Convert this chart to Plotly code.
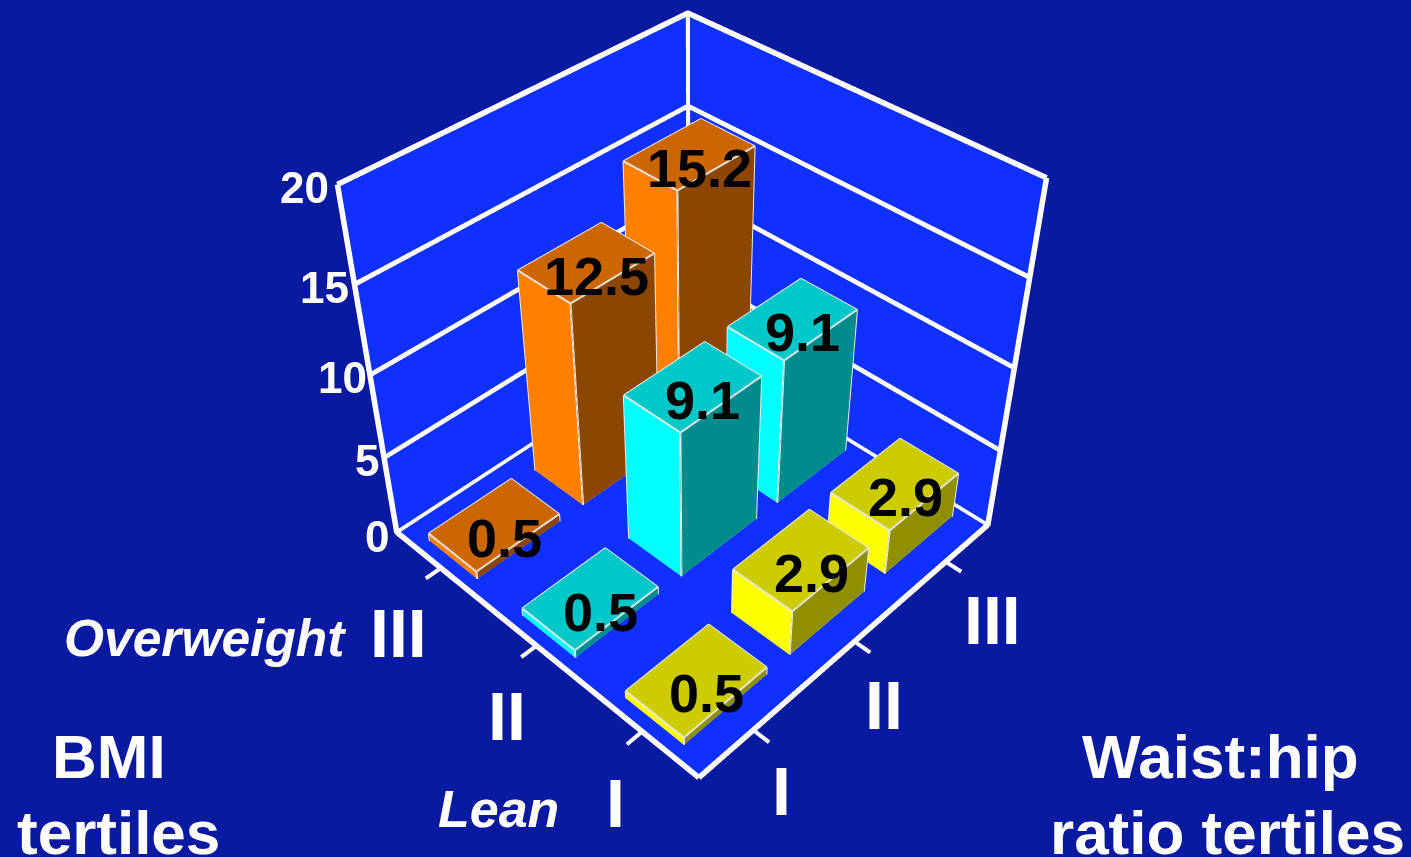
import plotly.graph_objects as go

whr_labels = ["I", "II", "III"]
bmi_labels = ["I", "II", "III"]
values_bmi_I = [0.5, 2.9, 2.9]
values_bmi_II = [0.5, 9.1, 9.1]
values_bmi_III = [0.5, 12.5, 15.2]
z_ticks = [0, 5, 10, 15, 20]

PAGE_BG = "#0a1aa0"
WALL = "#1030ff"
LEFT = ["#ffff00", "#00ffff", "#ff7f00"]
TOPC = ["#cccc00", "#00c8c8", "#cc6600"]
RIGHT = ["#8f8f00", "#008c8c", "#8c4600"]
BW_X, BW_Y = 0.77, 0.52
XR, YR, ZR = [-0.2, 3.02], [-0.2, 3.02], [-0.1, 20.2]
HZ = 0.99
EYE = dict(x=-1.881, y=-1.817, z=2.249)
CENTER = dict(x=0.328, y=0.318, z=-0.311)
W, H = 1450, 857
HC = 1319
TOP = HC // 2 - 357
LEFT_OFF = 32
Z_SHIFT = [-5, -2, 0, -2, -5]
BMI_SHIFT = [(-7, -55), (-10, -55), (-23, -51)]
WHR_SHIFT = [(8, -45), (9, -49), (27, -45)]

fig = go.Figure()

def wall(xs, ys, zs):
    fig.add_trace(go.Mesh3d(x=xs, y=ys, z=zs, i=[0, 0], j=[1, 2], k=[2, 3], color=WALL, flatshading=True,
                            lighting=dict(ambient=1, diffuse=0, specular=0, fresnel=0), hoverinfo="skip"))
wall([0, 3, 3, 0], [0, 0, 3, 3], [0, 0, 0, 0])
wall([0, 3, 3, 0], [3, 3, 3, 3], [0, 0, 20, 20])
wall([3, 3, 3, 3], [0, 3, 3, 0], [0, 0, 20, 20])

for r, vals in enumerate([values_bmi_I, values_bmi_II, values_bmi_III]):
    X, Y, Z, I, J, K, FC = [], [], [], [], [], [], []
    ex, ey, ez = [], [], []
    for c, v in enumerate(vals):
        x0, x1 = c + .5 - BW_X / 2, c + .5 + BW_X / 2
        y0, y1 = r + .5 - BW_Y / 2, r + .5 + BW_Y / 2
        n = len(X)
        X += [x0, x1, x1, x0, x0, x1, x1, x0]
        Y += [y0, y0, y1, y1, y0, y0, y1, y1]
        Z += [0, 0, 0, 0, v, v, v, v]
        faces = [((0, 3, 7), LEFT[r]), ((0, 7, 4), LEFT[r]),
                 ((0, 1, 5), RIGHT[r]), ((0, 5, 4), RIGHT[r]),
                 ((4, 5, 6), TOPC[r]), ((4, 6, 7), TOPC[r]),
                 ((1, 2, 6), RIGHT[r]), ((1, 6, 5), RIGHT[r]),
                 ((3, 2, 6), LEFT[r]), ((3, 6, 7), LEFT[r])]
        for (a, b, d), col in faces:
            I.append(n + a); J.append(n + b); K.append(n + d); FC.append(col)
        for pth in ([(x0, y1, 0), (x0, y0, 0), (x1, y0, 0)],
                    [(x0, y1, v), (x0, y0, v), (x1, y0, v), (x1, y1, v), (x0, y1, v)],
                    [(x0, y0, 0), (x0, y0, v)], [(x0, y1, 0), (x0, y1, v)], [(x1, y0, 0), (x1, y0, v)]):
            for p in pth:
                ex.append(p[0]); ey.append(p[1]); ez.append(p[2])
            ex.append(None); ey.append(None); ez.append(None)
    fig.add_trace(go.Mesh3d(x=X, y=Y, z=Z, i=I, j=J, k=K, facecolor=FC, flatshading=True,
                            lighting=dict(ambient=1, diffuse=0, specular=0, fresnel=0), hoverinfo="skip"))
    fig.add_trace(go.Scatter3d(x=ex, y=ey, z=ez, mode="lines", line=dict(color="#e8e8e8", width=4), hoverinfo="skip"))

def polyline(width):
    lx, ly, lz = [], [], []
    def seg(*pts):
        for p in pts:
            lx.append(p[0]); ly.append(p[1]); lz.append(p[2])
        lx.append(None); ly.append(None); lz.append(None)
    return lx, ly, lz, seg

E = 2.99
F0 = -0.05  # floor lines sit just above the floor plane (z axis runs up from the floor)
lx, ly, lz, seg = polyline(11)
for t in z_ticks:
    zz = t if t else 0.06
    seg((0, E, zz), (E, E, zz), (E, 0, zz))
seg((0, 0, 0.06), (0, E, 0.06)); seg((0, 0, 0.06), (E, 0, 0.06))
seg((0, E, 0), (0, E, 20)); seg((E, E, 0), (E, E, 20)); seg((E, 0, 0), (E, 0, 20))
fig.add_trace(go.Scatter3d(x=lx, y=ly, z=lz, mode="lines", line=dict(color="white", width=11), hoverinfo="skip"))

tx, ty, tz, tseg = polyline(7)
for i in range(3):
    tseg((i + .5, 0, 0), (i + .5, -.13, 0))
    tseg((0, i + .5, 0), (-.13, i + .5, 0))
fig.add_trace(go.Scatter3d(x=tx, y=ty, z=tz, mode="lines", line=dict(color="white", width=8), hoverinfo="skip"))

ann = []
for r, vals in enumerate([values_bmi_I, values_bmi_II, values_bmi_III]):
    for c, v in enumerate(vals):
        ann.append(dict(x=c + .5, y=r + .5, z=v, text=f"{v}", showarrow=False, xshift=10, yshift=-14,
                        font=dict(family="Liberation Sans", size=54, color="black", weight="bold")))
for t, dx in zip(z_ticks, Z_SHIFT):
    ann.append(dict(x=0, y=3, z=t, text=str(t), showarrow=False, xanchor="right", xshift=dx, yshift=-4,
                    font=dict(family="Liberation Sans", size=44, color="white", weight="bold")))
for i, l in enumerate(bmi_labels):
    ann.append(dict(x=-.17, y=i + .5, z=0, text=l, showarrow=False, xshift=BMI_SHIFT[i][0], yshift=BMI_SHIFT[i][1],
                    font=dict(family="Liberation Sans", size=68, color="white", weight="bold")))
for i, l in enumerate(whr_labels):
    ann.append(dict(x=i + .5, y=-.17, z=0, text=l, showarrow=False, xshift=WHR_SHIFT[i][0], yshift=WHR_SHIFT[i][1],
                    font=dict(family="Liberation Sans", size=68, color="white", weight="bold")))

ax = dict(showgrid=False, showline=False, zeroline=False, showticklabels=False, ticks="", showbackground=False,
          title=dict(text=""), showspikes=False)
def paper(x, y, text, size=62, italic=False):
    return dict(x=(x + LEFT_OFF) / W, y=1 - (y + TOP) / HC, xref="paper", yref="paper", text=text, showarrow=False,
                xanchor="center", yanchor="middle",
                font=dict(family="Liberation Sans", size=size, color="white", weight="bold",
                          style="italic" if italic else "normal"))
fig.update_layout(
    width=W, height=HC, margin=dict(l=0, r=0, t=0, b=0), paper_bgcolor=PAGE_BG, showlegend=False,
    annotations=[paper(205, 638, "Overweight", 51.5, True), paper(498, 809, "Lean", 52, True),
                 paper(109, 756, "BMI"), paper(118, 832, "tertiles"),
                 paper(1220, 756, "Waist:hip"), paper(1227, 832, "ratio tertiles")],
    scene=dict(xaxis=dict(range=XR, **ax), yaxis=dict(range=YR, **ax), zaxis=dict(range=ZR, **ax),
               aspectmode="manual",
               aspectratio=dict(x=(XR[1] - XR[0]) / 3, y=(YR[1] - YR[0]) / 3, z=(ZR[1] - ZR[0]) / 20 * HZ),
               camera=dict(eye=EYE, center=CENTER, up=dict(x=0, y=0, z=1)),
               annotations=ann, domain=dict(x=[0, 1], y=[0, 1]), bgcolor=PAGE_BG))
post = f"""
document.documentElement.style.overflow='hidden';
document.documentElement.style.background='{PAGE_BG}';
document.body.style.margin='0';
document.body.style.overflow='hidden';
document.body.style.background='{PAGE_BG}';
var g=document.getElementsByClassName('plotly-graph-div')[0];
g.style.marginTop='-{TOP}px';
g.style.marginLeft='-{LEFT_OFF}px';
"""
fig.write_html("out.html", config={"displayModeBar": False}, post_script=post)
